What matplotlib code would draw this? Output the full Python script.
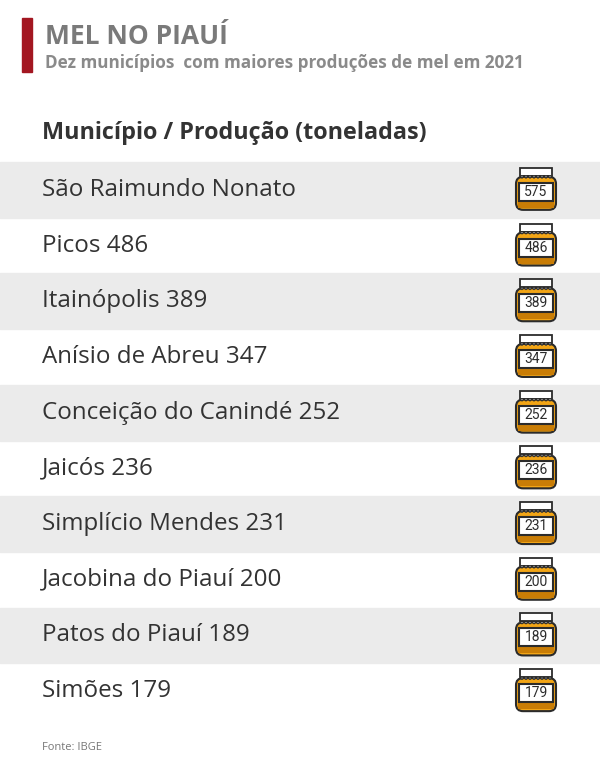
import matplotlib
matplotlib.use("Agg")
import matplotlib.pyplot as plt
from matplotlib.patches import Rectangle, FancyBboxPatch, Polygon

municipios = ["São Raimundo Nonato", "Picos", "Itainópolis", "Anísio de Abreu",
              "Conceição do Canindé", "Jaicós", "Simplício Mendes",
              "Jacobina do Piauí", "Patos do Piauí", "Simões"]
producao = [575, 486, 389, 347, 252, 236, 231, 200, 189, 179]

_ROW_TOP = 162
_ROW_H = 55.7
_GREY = "#ebebeb"
_TEXT = "#333333"
_HONEY = "#f2a516"
_HONEY_DARK = "#c97d06"
_OUTLINE = "#2b2b2b"

fig = plt.figure(figsize=(6, 7.64), dpi=100)
ax = fig.add_axes([0, 0, 1, 1])
ax.set_xlim(0, 600)
ax.set_ylim(764, 0)
ax.axis("off")

# title block
ax.add_patch(Rectangle((22, 18), 10, 54, color="#a31621"))
ax.text(45, 36, "MEL NO PIAUÍ", fontsize=19, fontweight="bold", color="#7a7a7a",
        va="center", family="Open Sans")
ax.text(45, 63, "Dez municípios  com maiores produções de mel em 2021", fontsize=12.3,
        fontweight="bold", color="#8a8a8a", va="center", family="Open Sans")
ax.text(42, 133, "Município / Produção (toneladas)", fontsize=16.8, fontweight="bold",
        color=_TEXT, va="center", family="Open Sans")


def draw_jar(cx, cy, value):
    # body
    ax.add_patch(FancyBboxPatch((cx - 20, cy - 13), 40, 33, boxstyle="round,pad=0,rounding_size=7",
                                fc=_HONEY, ec=_OUTLINE, lw=1.5, zorder=3))
    ax.add_patch(Rectangle((cx - 18, cy + 9), 36, 9, fc=_HONEY_DARK, ec="none", zorder=3.5))
    # lid cloth
    ax.add_patch(Rectangle((cx - 16, cy - 22), 32, 8, fc="white", ec=_OUTLINE, lw=1.3, zorder=4))
    scallops = [(cx - 16, cy - 14)]
    for k in range(8):
        x0 = cx - 16 + k * 4
        scallops += [(x0 + 2, cy - 11.5), (x0 + 4, cy - 14)]
    ax.add_patch(Polygon(scallops, closed=True, fc="white", ec=_OUTLINE, lw=0.8, zorder=4))
    # label
    ax.add_patch(Rectangle((cx - 17, cy - 7), 34, 18, fc="white", ec=_OUTLINE, lw=1.5, zorder=5))
    ax.text(cx, cy + 2, str(value), fontsize=10, ha="center", va="center",
            color=_OUTLINE, zorder=6, family="Roboto")


for i, (nome, val) in enumerate(zip(municipios, producao)):
    top = _ROW_TOP + i * _ROW_H
    cy = top + _ROW_H / 2
    if i % 2 == 0:
        ax.add_patch(Rectangle((0, top), 600, _ROW_H, color=_GREY, zorder=1))
    label = nome if i == 0 else f"{nome} {val}"
    ax.text(42, cy, label, fontsize=17.4, color=_TEXT, va="center", family="Open Sans", zorder=2)
    draw_jar(536, cy, val)

ax.text(42, 748, "Fonte: IBGE", fontsize=8, color="#777777", va="center", family="Open Sans")

fig.savefig("out.png", dpi=100, facecolor="white")
